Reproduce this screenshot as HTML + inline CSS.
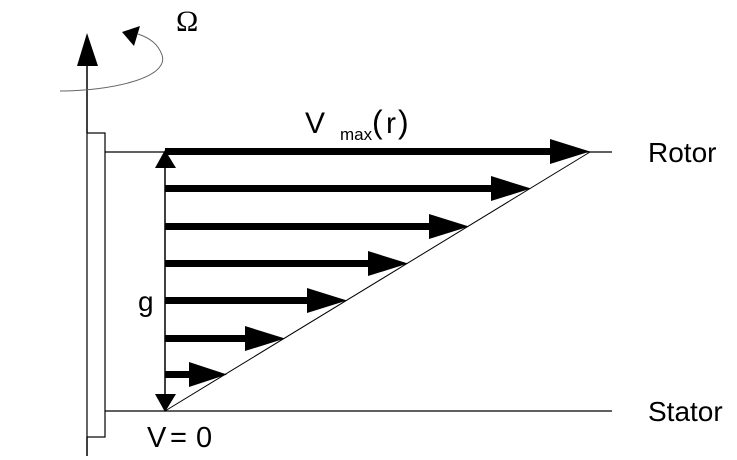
<!DOCTYPE html>
<html><head><style>body{margin:0;background:#fff}svg{display:block}</style></head><body>
<svg width="737" height="460" xmlns="http://www.w3.org/2000/svg" style="font-family:'Liberation Sans',sans-serif">
<rect width="737" height="460" fill="#fff"/>
<line x1="87" y1="55" x2="87" y2="133" stroke="#000" stroke-width="1.5"/>
<polygon points="87,33 77,66 98,66" fill="#000"/>
<rect x="87" y="133" width="18" height="304" fill="none" stroke="#000" stroke-width="1.2"/>
<line x1="87" y1="437" x2="87" y2="456" stroke="#000" stroke-width="1.5"/>
<path d="M60,91 C110,91 170,78 162,55 C158,44 150,38 138,34" fill="none" stroke="#666" stroke-width="1"/>
<polygon points="140,26 122,32 134,46" fill="#000"/>
<text x="176" y="31" style="font-family:'Liberation Serif',serif;font-size:30px">Ω</text>
<line x1="105" y1="152" x2="612" y2="152" stroke="#000" stroke-width="1.2"/>
<line x1="105" y1="411" x2="612" y2="411" stroke="#000" stroke-width="1.2"/>
<line x1="165" y1="411" x2="590" y2="152" stroke="#000" stroke-width="1"/>
<line x1="165" y1="162" x2="165" y2="400" stroke="#000" stroke-width="1.5"/>
<polygon points="165,150 155,168 176,168" fill="#000"/>
<polygon points="165,412 155,394 176,394" fill="#000"/>
<g fill="#000">
<rect x="165" y="148" width="390" height="7"/><polygon points="590,151.5 550,139 550,164"/>
<rect x="165" y="185" width="332" height="7"/><polygon points="531,188.5 491,176 491,201"/>
<rect x="165" y="223" width="270" height="7"/><polygon points="469,226.5 429,214 429,239"/>
<rect x="165" y="260" width="209" height="7"/><polygon points="408,263.5 368,251 368,276"/>
<rect x="165" y="297" width="148" height="7"/><polygon points="347,300.5 307,288 307,313"/>
<rect x="165" y="335" width="86" height="7"/><polygon points="285,338.5 245,326 245,351"/>
<rect x="165" y="371" width="28" height="7"/><polygon points="227,374.5 189,362 189,387"/>
</g>
<text x="305" y="133" style="font-size:30px">V</text>
<text x="340" y="140" style="font-size:17px">max</text>
<text x="372" y="133" style="font-size:32px">(</text>
<text x="386" y="133" style="font-size:30px">r</text>
<text x="398" y="133" style="font-size:32px">)</text>
<text x="648" y="162" style="font-size:28px">Rotor</text>
<text x="648" y="421" style="font-size:28px">Stator</text>
<text x="138" y="311" style="font-size:28px">g</text>
<text x="147" y="447" style="font-size:29px">V</text>
<text x="170" y="447" style="font-size:29px">=</text>
<text x="196" y="447" style="font-size:29px">0</text>
</svg>
</body></html>
